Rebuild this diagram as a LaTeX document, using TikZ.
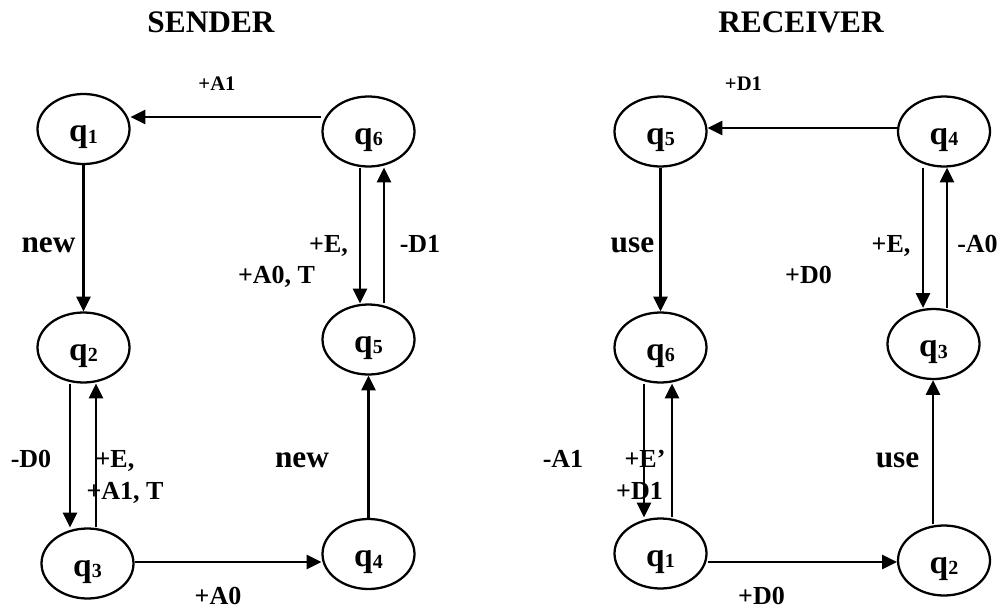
\documentclass[tikz,border=0pt]{standalone}
\usepackage{fontspec}
\setmainfont{Liberation Serif}
\usetikzlibrary{arrows.meta,calc,shapes.geometric}

\tikzset{every picture/.style={line width=1.7pt}}
\tikzset{
  state/.style={draw, ellipse, minimum width=69pt, minimum height=52.5pt, inner sep=0pt,
    text height=19pt, text depth=0pt, font=\bfseries\fontsize{25}{26}\selectfont},
  arr/.style={-{Triangle[length=11pt,width=10.5pt]}},
  lbl/.style={anchor=base, inner sep=0pt, font=\bfseries\fontsize{19.5}{22}\selectfont},
  biglbl/.style={lbl, font=\bfseries\fontsize{23.5}{26}\selectfont},
  smalllbl/.style={lbl, font=\bfseries\fontsize{15.5}{18}\selectfont},
}
\newcommand{\qs}[1]{q\raisebox{-1pt}{\fontsize{15}{15}\selectfont #1}}

\begin{document}
\begin{tikzpicture}[x=0.75pt,y=0.75pt,yscale=-1,xscale=1]
\path[use as bounding box] (0,0) rectangle (1002,610);

% titles
\node[biglbl] (sender) at (211,33) {SENDER};
\node[biglbl] (receiver) at (801,33) {RECEIVER};

% sender states
\node[state] (s1) at (83.5,129) {\qs{1}};
\node[state] (s6) at (368.5,131.5) {\qs{6}};
\node[state] (s2) at (83.5,347.5) {\qs{2}};
\node[state] (s5) at (368.5,339.5) {\qs{5}};
\node[state] (s3) at (87.5,563.5) {\qs{3}};
\node[state] (s4) at (368.5,554) {\qs{4}};

% receiver states
\node[state] (r5) at (660.5,131.5) {\qs{5}};
\node[state] (r4) at (944,131.5) {\qs{4}};
\node[state] (r6) at (660.5,347.5) {\qs{6}};
\node[state] (r3) at (933.5,344) {\qs{3}};
\node[state] (r1) at (660.5,553.5) {\qs{1}};
\node[state] (r2) at (944,560.5) {\qs{2}};

% sender transitions
\draw[arr] ($(s6.west)+(0,-14.5)$) coordinate (t) -- (t -| s1.east);
\draw[arr] (s1) -- (s2);
\draw[arr] ($(s2.south)+(-13.5,0)$) coordinate (t) -- (t |- s3.north);
\draw[arr] ($(s3.north)+(8.5,0)$) coordinate (t) -- (t |- s2.south);
\draw[arr] ($(s3.east)+(0,-1.5)$) coordinate (t) -- (t -| s4.west);
\draw[arr] (s4) -- (s5);
\draw[arr] ($(s6.south)+(-8.5,0)$) coordinate (t) -- (t |- s5.north);
\draw[arr] ($(s5.north)+(15.5,0)$) coordinate (t) -- (t |- s6.south);

% receiver transitions
\draw[arr] ($(r4.west)+(0,-3.5)$) coordinate (t) -- (t -| r5.east);
\draw[arr] (r5) -- (r6);
\draw[arr] ($(r4.south)+(-21,0)$) coordinate (t) -- (t |- r3.north);
\draw[arr] ($(r3.north)+(13.5,0)$) coordinate (t) -- (t |- r4.south);
\draw[arr] ($(r2.north)+(-11,0)$) coordinate (t) -- (t |- r3.south);
\draw[arr] ($(r6.south)+(-16.5,0)$) coordinate (t) -- (t |- r1.north);
\draw[arr] ($(r1.north)+(11.5,0)$) coordinate (t) -- (t |- r6.south);
\draw[arr] ($(r1.east)+(0,8.5)$) coordinate (t) -- (t -| r2.west);

% sender labels
\node[smalllbl] (la1) at (217,90) {+A1};
\node[biglbl] (lnew1) at (48.5,252) {new};
\node[lbl, anchor=base east] (le1) at (349,252) {+E,};
\node[lbl] (la0t) at (276.5,283) {+A0, T};
\node[lbl] (ld1) at (420,252) {-D1};
\node[lbl] (ld0) at (31,467) {-D0};
\node[lbl] (le2) at (115,467) {+E,};
\node[lbl] (la1t) at (125,499) {+A1, T};
\node[biglbl] (lnew2) at (302,467) {new};
\node[lbl] (la0) at (218,604) {+A0};

% receiver labels
\node[smalllbl] (rd1) at (743.5,90) {+D1};
\node[biglbl] (ruse1) at (632.5,252) {use};
\node[lbl] (re1) at (891,252) {+E,};
\node[lbl] (ra0) at (977.5,252) {-A0};
\node[lbl] (rd0) at (808.5,283) {+D0};
\node[lbl] (ra1) at (563,467) {-A1};
\node[lbl] (re2) at (645,467) {+E’};
\node[lbl] (rd1b) at (639.5,499) {+D1};
\node[biglbl] (ruse2) at (897.5,467) {use};
\node[lbl] (rd0b) at (761.5,604) {+D0};

\end{tikzpicture}
\end{document}
